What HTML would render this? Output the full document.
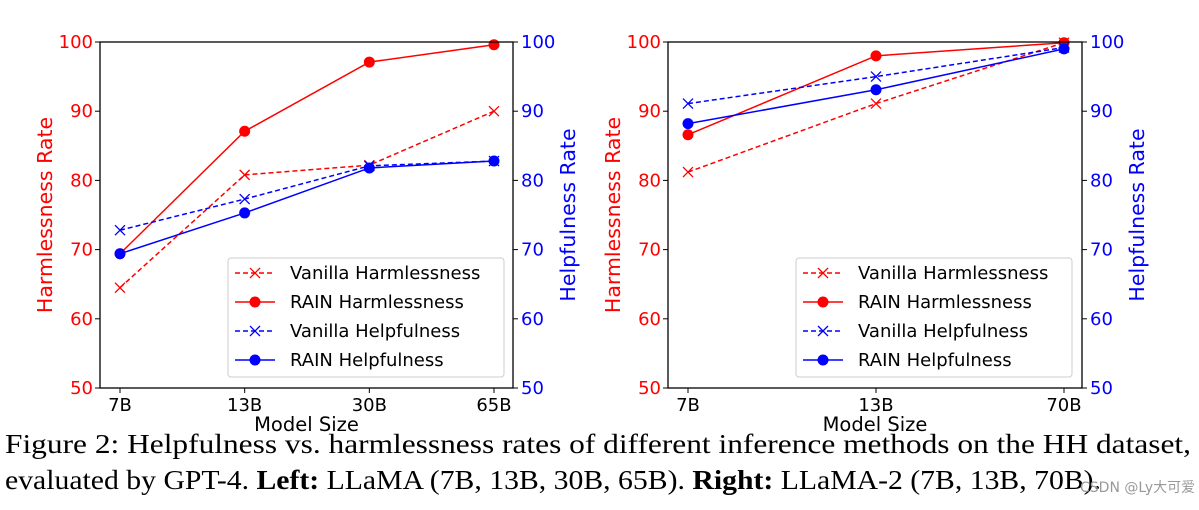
<!DOCTYPE html>
<html><head><meta charset="utf-8"><style>
body{margin:0;background:#fff;width:1199px;height:505px;overflow:hidden}
svg text{font-family:"DejaVu Sans",sans-serif}
.cap{font-family:"Liberation Serif",serif;font-size:27px;fill:#000}
</style></head><body>
<svg id="fig" width="1199" height="505" viewBox="0 0 1199 505" xmlns="http://www.w3.org/2000/svg">
<text class="cap" x="5" y="453" textLength="1186" lengthAdjust="spacingAndGlyphs">Figure 2:  Helpfulness vs.  harmlessness rates of different inference methods on the HH dataset,</text>
<text class="cap" x="5" y="489" textLength="1096" lengthAdjust="spacingAndGlyphs">evaluated by GPT-4. <tspan font-weight="bold">Left:</tspan> LLaMA (7B, 13B, 30B, 65B). <tspan font-weight="bold">Right:</tspan> LLaMA-2 (7B, 13B, 70B).</text>
<text x="1080" y="492" font-size="14" fill="#999">CSDN @Ly大可爱</text>
</svg>
<script>
// Left chart data
const leftCats = ["7B","13B","30B","65B"];
const leftVanillaHarm = [64.5, 80.8, 82.2, 90.0];
const leftRainHarm = [69.4, 87.1, 97.1, 99.6];
const leftVanillaHelp = [72.8, 77.3, 82.1, 82.8];
const leftRainHelp = [69.4, 75.3, 81.8, 82.8];
// Right chart data
const rightCats = ["7B","13B","70B"];
const rightVanillaHarm = [81.2, 91.1, 99.9];
const rightRainHarm = [86.6, 98.0, 99.9];
const rightVanillaHelp = [91.1, 95.0, 99.2];
const rightRainHelp = [88.2, 93.1, 99.0];
const yTicks = [50,60,70,80,90,100];
const legendLabels = ["Vanilla Harmlessness","RAIN Harmlessness","Vanilla Helpfulness","RAIN Helpfulness"];

const NS="http://www.w3.org/2000/svg";
const svg=document.getElementById('fig');
function mk(tag,attrs,parent){const e=document.createElementNS(NS,tag);for(const k in attrs)e.setAttribute(k,attrs[k]);(parent||svg).appendChild(e);return e;}

function chart(prefix,x0,x1,firstX,lastX,cats,vh,rh,vp,rp,legX,legW){
  const top=42,bot=388;
  const y=v=>bot-(v-50)/50*(bot-top);
  const x=i=>firstX+(lastX-firstX)*i/(cats.length-1);
  const g=mk('g',{});
  
  
  yTicks.forEach(t=>{
    mk('line',{x1:x0-5,x2:x0,y1:y(t),y2:y(t),stroke:'#000'},g);
    mk('line',{x1:x1,x2:x1+5,y1:y(t),y2:y(t),stroke:'#000'},g);
    const tl=mk('text',{x:x0-7,y:y(t)+6,'text-anchor':'end','font-size':18,fill:'#f00'},g);
    tl.textContent=t;
    
    
    const tr=mk('text',{x:x1+8,y:y(t)+6,'font-size':18,fill:'#00f'},g);
    tr.textContent=t;
    
    
  });
  cats.forEach((c,i)=>{
    mk('line',{x1:x(i),x2:x(i),y1:bot,y2:bot+5,stroke:'#000'},g);
    const t=mk('text',{x:x(i),y:bot+23,'text-anchor':'middle','font-size':18,fill:'#000'},g);
    t.textContent=c;
    
    
  });
  const xt=mk('text',{x:(x0+x1)/2,y:bot+43,'text-anchor':'middle','font-size':19.5,fill:'#000'},g);
  xt.textContent='Model Size';
  
  
  const yl=mk('text',{transform:`translate(${x0-48},${(top+bot)/2}) rotate(-90)`,'text-anchor':'middle','font-size':20.5,fill:'#f00'},g);
  yl.textContent='Harmlessness Rate';
  
  
  const yr=mk('text',{transform:`translate(${x1+62},${(top+bot)/2}) rotate(-90)`,'text-anchor':'middle','font-size':20.5,fill:'#00f'},g);
  yr.textContent='Helpfulness Rate';
  
  
  const series=[[vh,'#f00',true,'vanilla-harmlessness'],[rh,'#f00',false,'rain-harmlessness'],[vp,'#00f',true,'vanilla-helpfulness'],[rp,'#00f',false,'rain-helpfulness']];
  function marker(px,py,col,cross,par){
    if(cross){mk('path',{d:`M${px-5},${py-5}L${px+5},${py+5}M${px-5},${py+5}L${px+5},${py-5}`,stroke:col,'stroke-width':1.3,fill:'none'},par);}
    else mk('circle',{cx:px,cy:py,r:5.5,fill:col},par);
  }
  series.forEach(([d,col,dash,name])=>{
    const pts=d.map((v,i)=>x(i)+','+y(v)).join(' ');
    const pl=mk('polyline',{points:pts,fill:'none',stroke:col,'stroke-width':1.5,'stroke-dasharray':dash?'5,3':'none'},g);
    
    
    d.forEach((v,i)=>marker(x(i),y(v),col,dash,g));
  });
  mk('rect',{x:x0,y:top,width:x1-x0,height:bot-top,fill:'none',stroke:'#000','stroke-width':1.3},g);
  const lg=mk('g',{},g);
  
  
  mk('rect',{x:legX,y:258,width:legW,height:119,rx:3,fill:'#fff','fill-opacity':0.85,stroke:'#ccc'},lg);
  series.forEach(([d,col,dash,name],k)=>{
    const yy=273+k*29;
    mk('line',{x1:legX+7,x2:legX+47,y1:yy,y2:yy,stroke:col,'stroke-width':1.5,'stroke-dasharray':dash?'5,3':'none'},lg);
    marker(legX+27,yy,col,dash,lg);
    const t=mk('text',{x:legX+62,y:yy+6,'font-size':18,fill:'#000'},lg);
    t.textContent=legendLabels[k];
    
    
  });
}
chart('left',100,513,120,494,leftCats,leftVanillaHarm,leftRainHarm,leftVanillaHelp,leftRainHelp,228,276);
chart('right',668,1082,688,1064,rightCats,rightVanillaHarm,rightRainHarm,rightVanillaHelp,rightRainHelp,796,276);
</script>
</body></html>
